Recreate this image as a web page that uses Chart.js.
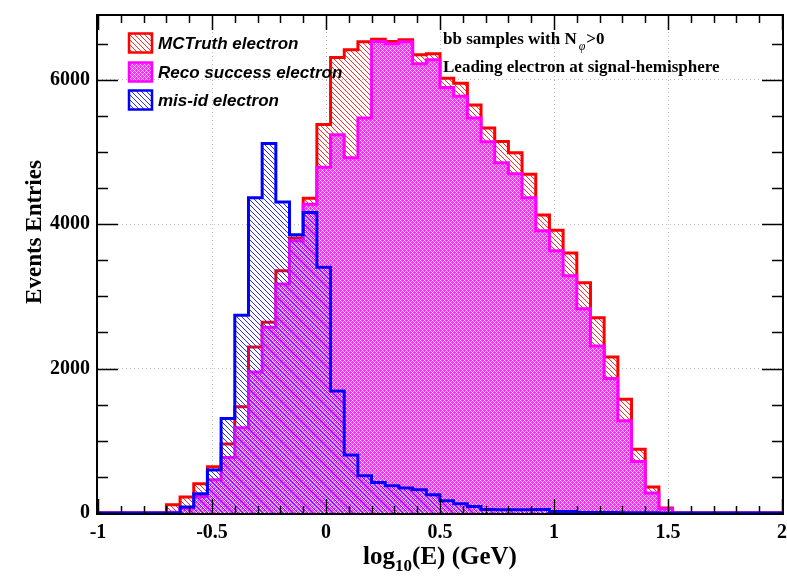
<!DOCTYPE html>
<html>
<head>
<meta charset="utf-8">
<script src="https://cdn.jsdelivr.net/npm/chart.js@4.4.0/dist/chart.umd.min.js"></script>
<style>
  html, body { margin: 0; padding: 0; background: #ffffff; }
  #wrap { width: 787px; height: 581px; position: relative; }
</style>
</head>
<body>
<div id="wrap"><canvas id="c" width="787" height="581"></canvas></div>
<script>
// Histogram binning: 50 bins of width 0.06 covering log10(E) in [-1, 2]
const binLow = -1;
const binWidth = 0.06;

// Bin contents, one value per bin (left to right)
const mcTruth = [
  0, 0, 0, 0, 0, 115, 220, 404, 640, 955,
  1470, 2300, 2643, 3356, 3810, 4359, 5379, 6307, 6414, 6528,
  6560, 6530, 6555, 6345, 6359, 6022, 5953, 5650, 5333, 5145,
  4988, 4690, 4128, 3917, 3600, 3188, 2703, 2160, 1577, 883,
  359, 69, 0, 0, 0, 0, 0, 0, 0, 0
];
const recoSuccess = [
  0, 0, 0, 0, 0, 10, 65, 230, 460, 770,
  1180, 1953, 2574, 3172, 3770, 4276, 4790, 5240, 4920, 5470,
  6530, 6500, 6528, 6220, 6276, 5894, 5770, 5470, 5140, 4850,
  4698, 4367, 3908, 3632, 3287, 2828, 2312, 1862, 1277, 712,
  276, 60, 0, 0, 0, 0, 0, 0, 0, 0
];
const misId = [
  0, 0, 0, 0, 0, 0, 83, 266, 597, 1310,
  2740, 4367, 5117, 4308, 3852, 4160, 3402, 1690, 804, 515,
  422, 377, 345, 321, 252, 170, 128, 91, 48, 45,
  45, 46, 50, 22, 22, 8, 8, 6, 5, 3,
  2, 1, 0, 0, 0, 0, 0, 0, 0, 0
];

const seriesLabels = ["MCTruth electron", "Reco success electron", "mis-id electron"];
const xTickLabels = [-1, -0.5, 0, 0.5, 1, 1.5, 2];
const yTickLabels = [0, 2000, 4000, 6000];
const xRange = [-1, 2];
const yRange = [0, 6883];
const xMinorStep = 0.1;
const yMinorStep = 500;

const canvas = document.getElementById('c');
const mainCtx = canvas.getContext('2d');

// "\"-direction hatch pattern
function hatchPattern(color, period, width) {
  const c = document.createElement('canvas');
  c.width = period; c.height = period;
  const g = c.getContext('2d');
  g.strokeStyle = color;
  g.lineWidth = width;
  g.beginPath();
  for (let k = -1; k <= 1; k++) {
    g.moveTo(k * period, 0);
    g.lineTo(k * period + period, period);
  }
  g.stroke();
  return mainCtx.createPattern(c, 'repeat');
}

// fine magenta cross-hatch with light dots
function crossPattern() {
  const n = 4;
  const c = document.createElement('canvas');
  c.width = n; c.height = n;
  const g = c.getContext('2d');
  const img = g.createImageData(n, n);
  for (let j = 0; j < n; j++) {
    for (let i = 0; i < n; i++) {
      const diagA = (i + j) % n === 0;
      const diagB = ((i - j) % n + n) % n === 0;
      const o = (j * n + i) * 4;
      if (diagA || diagB) { img.data[o] = 255; img.data[o+1] = 232; img.data[o+2] = 255; }
      else { img.data[o] = 255; img.data[o+1] = 40; img.data[o+2] = 255; }
      img.data[o+3] = 255;
    }
  }
  g.putImageData(img, 0, 0);
  return mainCtx.createPattern(c, 'repeat');
}

const redHatch = hatchPattern('#ff2a2a', 5, 1);
const blueHatch = hatchPattern('#2a2aff', 5, 1);
const magentaFill = crossPattern();

// bin edges with the bin content held across each bin
function histPoints(values) {
  const pts = values.map((v, i) => ({ x: binLow + i * binWidth, y: v }));
  pts.push({ x: binLow + values.length * binWidth, y: values[values.length - 1] });
  return pts;
}

const near = (v, list) => list.find((t) => Math.abs(t - v) < 1e-6);

function tickValues(range, step) {
  const out = [];
  const n = Math.floor((range[1] - range[0]) / step + 1e-9);
  for (let k = 0; k <= n; k++) out.push({ value: range[0] + k * step });
  return out;
}

const serif = '"Liberation Serif", "Times New Roman", serif';
const sans = '"Liberation Sans", Arial, sans-serif';

// frame, inward ticks, axis titles, legend and header text
const decor = {
  id: 'decor',
  afterDraw(chart) {
    const { ctx, chartArea: a, scales: { x, y } } = chart;
    ctx.save();

    // inward ticks on all four sides
    ctx.strokeStyle = '#000';
    ctx.lineWidth = 1.5;
    tickValues(xRange, xMinorStep).forEach((t, k) => {
      const px = Math.round(x.getPixelForValue(t.value)) + 0.5;
      const L = (k % 5 === 0) ? 14 : 7;
      ctx.beginPath();
      ctx.moveTo(px, a.bottom); ctx.lineTo(px, a.bottom - L);
      ctx.moveTo(px, a.top); ctx.lineTo(px, a.top + L);
      ctx.stroke();
    });
    tickValues(yRange, yMinorStep).forEach((t, k) => {
      const py = Math.round(y.getPixelForValue(t.value)) + 0.5;
      const L = (k % 4 === 0) ? 20 : 10;
      ctx.beginPath();
      ctx.moveTo(a.left, py); ctx.lineTo(a.left + L, py);
      ctx.moveTo(a.right, py); ctx.lineTo(a.right - L, py);
      ctx.stroke();
    });

    // frame
    ctx.lineWidth = 2;
    ctx.strokeRect(a.left - 1, a.top - 1, a.right - a.left + 2, a.bottom - a.top + 2);

    // x-axis title with subscript
    ctx.fillStyle = '#000';
    ctx.textBaseline = 'alphabetic';
    ctx.textAlign = 'left';
    const bigFont = 'bold 25px ' + serif;
    const subFont = 'bold 17px ' + serif;
    ctx.font = bigFont; const w1 = ctx.measureText('log').width;
    const w3 = ctx.measureText('(E) (GeV)').width;
    ctx.font = subFont; const w2 = ctx.measureText('10').width;
    let tx = (a.left + a.right) / 2 - (w1 + w2 + w3) / 2;
    const ty = 564;
    ctx.font = bigFont; ctx.fillText('log', tx, ty); tx += w1;
    ctx.font = subFont; ctx.fillText('10', tx, ty + 7); tx += w2;
    ctx.font = bigFont; ctx.fillText('(E) (GeV)', tx, ty);

    // y-axis title
    ctx.save();
    ctx.translate(35, 232);
    ctx.rotate(-Math.PI / 2);
    ctx.textAlign = 'center';
    ctx.textBaseline = 'middle';
    ctx.font = 'bold 23px ' + serif;
    ctx.fillText('Events Entries', 0, 0);
    ctx.restore();

    // legend, in the order MCTruth, Reco success, mis-id
    const rowsY = [43, 72, 100];
    seriesLabels.forEach((label, i) => {
      const d = chart.data.datasets.find((s) => s.label === label);
      const cy = rowsY[i];
      const bx = 129, bw = 23, bh = 19;
      ctx.fillStyle = '#ffffff';
      ctx.fillRect(bx, cy - bh / 2, bw, bh);
      ctx.fillStyle = d.backgroundColor;
      ctx.fillRect(bx, cy - bh / 2, bw, bh);
      ctx.strokeStyle = d.borderColor;
      ctx.lineWidth = 2.5;
      ctx.strokeRect(bx, cy - bh / 2, bw, bh);
      ctx.fillStyle = '#000';
      ctx.font = 'italic bold 17px ' + sans;
      ctx.textAlign = 'left';
      ctx.textBaseline = 'middle';
      ctx.fillText(label, 158, cy + 1);
    });

    // header text
    ctx.fillStyle = '#000';
    ctx.textBaseline = 'alphabetic';
    ctx.textAlign = 'left';
    const hFont = 'bold 17px ' + serif;
    ctx.font = hFont;
    let hx = 443;
    const part1 = 'bb samples with N';
    ctx.fillText(part1, hx, 44);
    hx += ctx.measureText(part1).width + 2;
    ctx.font = 'italic 12px ' + serif;
    ctx.fillText('\u03c6', hx, 50);
    hx += ctx.measureText('\u03c6').width + 1;
    ctx.font = hFont;
    ctx.fillText('>0', hx, 44);
    ctx.fillText('Leading electron at signal-hemisphere', 443, 72);

    ctx.restore();
  }
};

const gridColor = (c, labels, lo, hi) => {
  const v = c.tick ? c.tick.value : null;
  if (v === null || v <= lo + 1e-6 || v >= hi - 1e-6) return 'rgba(0,0,0,0)';
  return near(v, labels) !== undefined ? '#bdbdbd' : 'rgba(0,0,0,0)';
};

const histStyle = { stepped: 'before', borderWidth: 3, fill: 'origin', pointRadius: 0, clip: 4 };
const tickFont = { family: serif, size: 20, weight: 'bold' };

new Chart(canvas, {
  type: 'line',
  data: {
    datasets: [
      Object.assign({
        label: seriesLabels[2],
        data: histPoints(misId),
        borderColor: '#0000ff',
        backgroundColor: blueHatch,
        order: 1
      }, histStyle),
      Object.assign({
        label: seriesLabels[1],
        data: histPoints(recoSuccess),
        borderColor: '#ff00ff',
        backgroundColor: magentaFill,
        order: 2
      }, histStyle),
      Object.assign({
        label: seriesLabels[0],
        data: histPoints(mcTruth),
        borderColor: '#ff0000',
        backgroundColor: redHatch,
        order: 3
      }, histStyle)
    ]
  },
  options: {
    responsive: false,
    animation: false,
    devicePixelRatio: 1,
    layout: { padding: { left: 0, right: 5, top: 16, bottom: 0 } },
    plugins: { legend: { display: false }, tooltip: { enabled: false } },
    elements: { line: { tension: 0 } },
    scales: {
      x: {
        type: 'linear',
        min: xRange[0],
        max: xRange[1],
        afterBuildTicks(s) { s.ticks = xTickLabels.map((v) => ({ value: v })); },
        afterFit(s) { s.height = 68; s.paddingLeft = 0; s.paddingRight = 0; },
        border: { display: false, dash: [1, 3] },
        grid: {
          drawTicks: false,
          lineWidth: 1,
          color: (c) => gridColor(c, xTickLabels, xRange[0], xRange[1])
        },
        ticks: {
          autoSkip: false,
          maxRotation: 0,
          padding: 8,
          color: '#000',
          font: tickFont,
          callback: (v) => { const t = near(v, xTickLabels); return t !== undefined ? String(t) : ''; }
        }
      },
      y: {
        type: 'linear',
        min: yRange[0],
        max: yRange[1],
        afterBuildTicks(s) { s.ticks = yTickLabels.map((v) => ({ value: v })); },
        afterFit(s) { s.width = 98; s.paddingTop = 0; s.paddingBottom = 0; },
        border: { display: false, dash: [1, 3] },
        grid: {
          drawTicks: false,
          lineWidth: 1,
          color: (c) => gridColor(c, yTickLabels, yRange[0], yRange[1])
        },
        ticks: {
          autoSkip: false,
          padding: 8,
          color: '#000',
          font: tickFont,
          callback: (v) => { const t = near(v, yTickLabels); return t !== undefined ? String(t) : ''; }
        }
      }
    }
  },
  plugins: [decor]
});
</script>
</body>
</html>
